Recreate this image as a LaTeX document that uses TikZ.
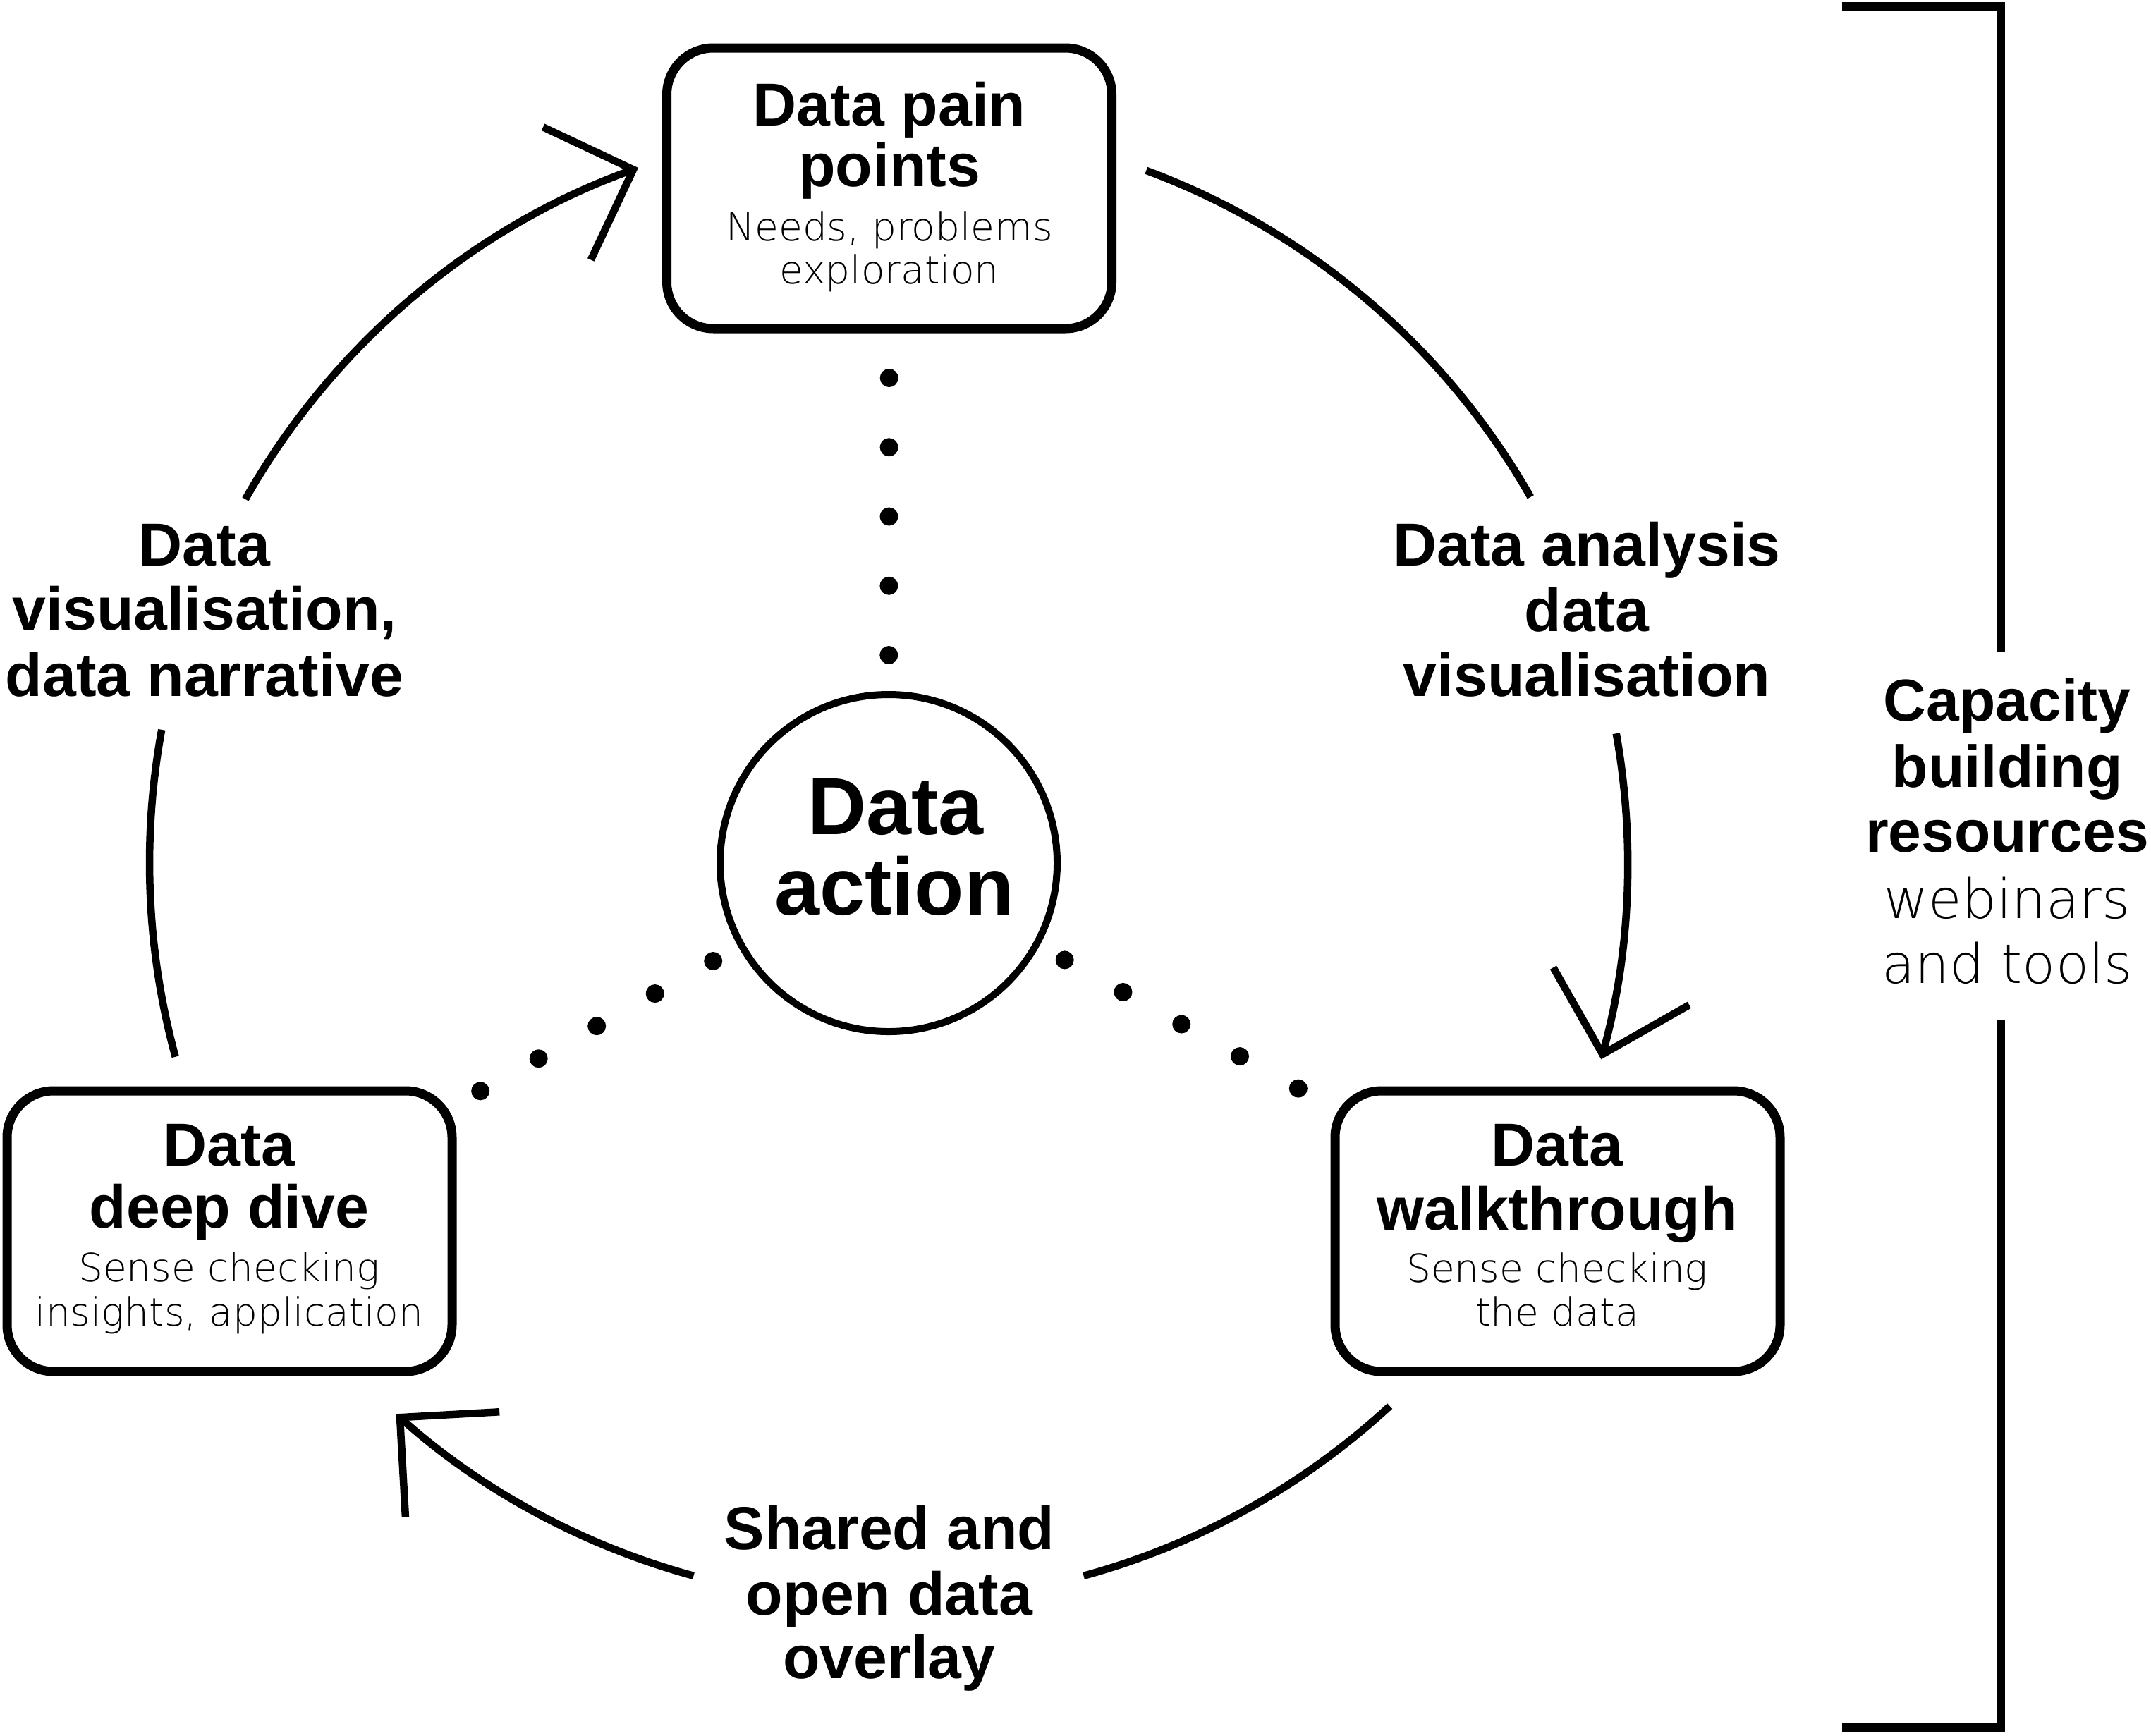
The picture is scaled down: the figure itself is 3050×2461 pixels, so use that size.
\documentclass[tikz,border=0pt]{standalone}
\usepackage{fontspec}
\setmainfont{Liberation Sans}
\IfFontExistsTF{DejaVu Sans ExtraLight}{\newfontfamily\lightf{DejaVu Sans ExtraLight}}{\newfontfamily\lightf{DejaVu Sans}}
\usetikzlibrary{arrows.meta,calc}

\begin{document}
\begin{tikzpicture}[x=1pt,y=1pt,
  stage/.style={draw, line width=13pt, rounded corners=66pt, minimum width=631pt, minimum height=398pt, inner sep=0pt, outer sep=0pt},
  hub/.style={draw, circle, line width=10pt, minimum size=478pt, inner sep=0pt, outer sep=0pt},
  ringline/.style={line width=10.5pt},
  arrowtip/.style={-{Straight Barb[length=100pt,width=200pt]}},
  brk/.style={line width=12pt},
  ttl/.style={font=\fontsize{86}{86}\selectfont\bfseries, anchor=base, inner sep=0pt},
  captl/.style={font=\fontsize{84}{84}\selectfont\bfseries, anchor=base, inner sep=0pt},
  bigttl/.style={font=\fontsize{115}{115}\selectfont\bfseries, anchor=base, inner sep=0pt},
  subttl/.style={font=\fontsize{55}{55}\selectfont\lightf, anchor=base, inner sep=0pt},
  capsub/.style={font=\fontsize{77}{77}\selectfont\lightf, anchor=base, inner sep=0pt},
  dot/.style={fill=black}
]
\fill[white] (0,0) rectangle (3050,-2461);
\useasboundingbox (0,0) rectangle (3050,-2461);

% centre hub
\node[hub] (act) at (1260,-1224) {};
\node[bigttl] (act1) at (1270,-1183) {Data};
\node[bigttl] (act2) at (1268,-1297) {action};

% top stage
\node[stage] (top) at (1261,-267) {};
\node[ttl] (top1) at (1261,-178) {Data pain};
\node[ttl] (top2) at (1261,-264) {points};
\node[subttl] (top3) at (1261,-341) {Needs, problems};
\node[subttl] (top4) at (1261,-402) {exploration};

% left stage
\node[stage] (left) at (325.5,-1746) {};
\node[ttl] (left1) at (325,-1653) {Data};
\node[ttl] (left2) at (325,-1741) {deep dive};
\node[subttl] (left3) at (325,-1817) {Sense checking};
\node[subttl] (left4) at (325,-1880) {insights, application};

% right stage
\node[stage] (right) at (2208.5,-1746) {};
\node[ttl] (right1) at (2208,-1653) {Data};
\node[ttl] (right2) at (2208,-1744) {walkthrough};
\node[subttl] (right3) at (2208,-1818) {Sense checking};
\node[subttl] (right4) at (2208,-1880) {the data};

% cycle labels
\node[ttl] (lv1) at (290,-802) {Data};
\node[ttl] (lv2) at (290,-893) {visualisation,};
\node[ttl] (lv3) at (290,-987) {data narrative};
\node[ttl] (ra1) at (2250,-802) {Data analysis};
\node[ttl] (ra2) at (2250,-895) {data};
\node[ttl] (ra3) at (2250,-987) {visualisation};
\node[ttl] (bo1) at (1261,-2197) {Shared and};
\node[ttl] (bo2) at (1261,-2290) {open data};
\node[ttl] (bo3) at (1261,-2380) {overlay};

% capacity building
\node[captl] (cb1) at (2846,-1022) {Capacity};
\node[captl] (cb2) at (2846,-1116) {building};
\node[captl] (cb3) at (2846,-1208) {resources};
\node[capsub] (cb4) at (2846,-1302) {webinars};
\node[capsub] (cb5) at (2846,-1394) {and tools};

% dotted links hub -> stages
\foreach \k in {0,...,4}{
  \pgfmathsetmacro\dt{295+98.25*\k}
  \pgfmathsetmacro\ds{285+94.5*\k}
  \fill[dot] ($(act.center)!\dt pt!(top.center)$) circle[radius=13];
  \fill[dot] ($(act.center)!\ds pt!(left.center)$) circle[radius=13];
  \fill[dot] ($(act.center)!\ds pt!(right.center)$) circle[radius=13];
}

% cycle arcs
\draw[ringline] ([shift={(195.2:1048)}]act.center) arc[start angle=195.2,end angle=169.6,radius=1048];
\draw[ringline,arrowtip] ([shift={(150.5:1048)}]act.center) arc[start angle=150.5,end angle=109.8,radius=1048];
\draw[ringline] ([shift={(69.6:1048)}]act.center) arc[start angle=69.6,end angle=29.7,radius=1048];
\draw[ringline,arrowtip] ([shift={(10.1:1048)}]act.center) arc[start angle=10.1,end angle=-15.4,radius=1048];
\draw[ringline] ([shift={(-47.3:1048)}]act.center) arc[start angle=-47.3,end angle=-74.7,radius=1048];
\draw[ringline,arrowtip] ([shift={(-105.3:1048)}]act.center) arc[start angle=-105.3,end angle=-131.8,radius=1048];

% bracket
\coordinate (brTop) at (2612,-8.5);
\coordinate (brTopEnd) at (2837,-925);
\coordinate (brBot) at (2612,-2450);
\coordinate (brBotEnd) at (2837,-1446);
\draw[brk] (brTop) -- (brTop -| brTopEnd) -- (brTopEnd);
\draw[brk] (brBotEnd) -- (brBot -| brBotEnd) -- (brBot);
\end{tikzpicture}
\end{document}
